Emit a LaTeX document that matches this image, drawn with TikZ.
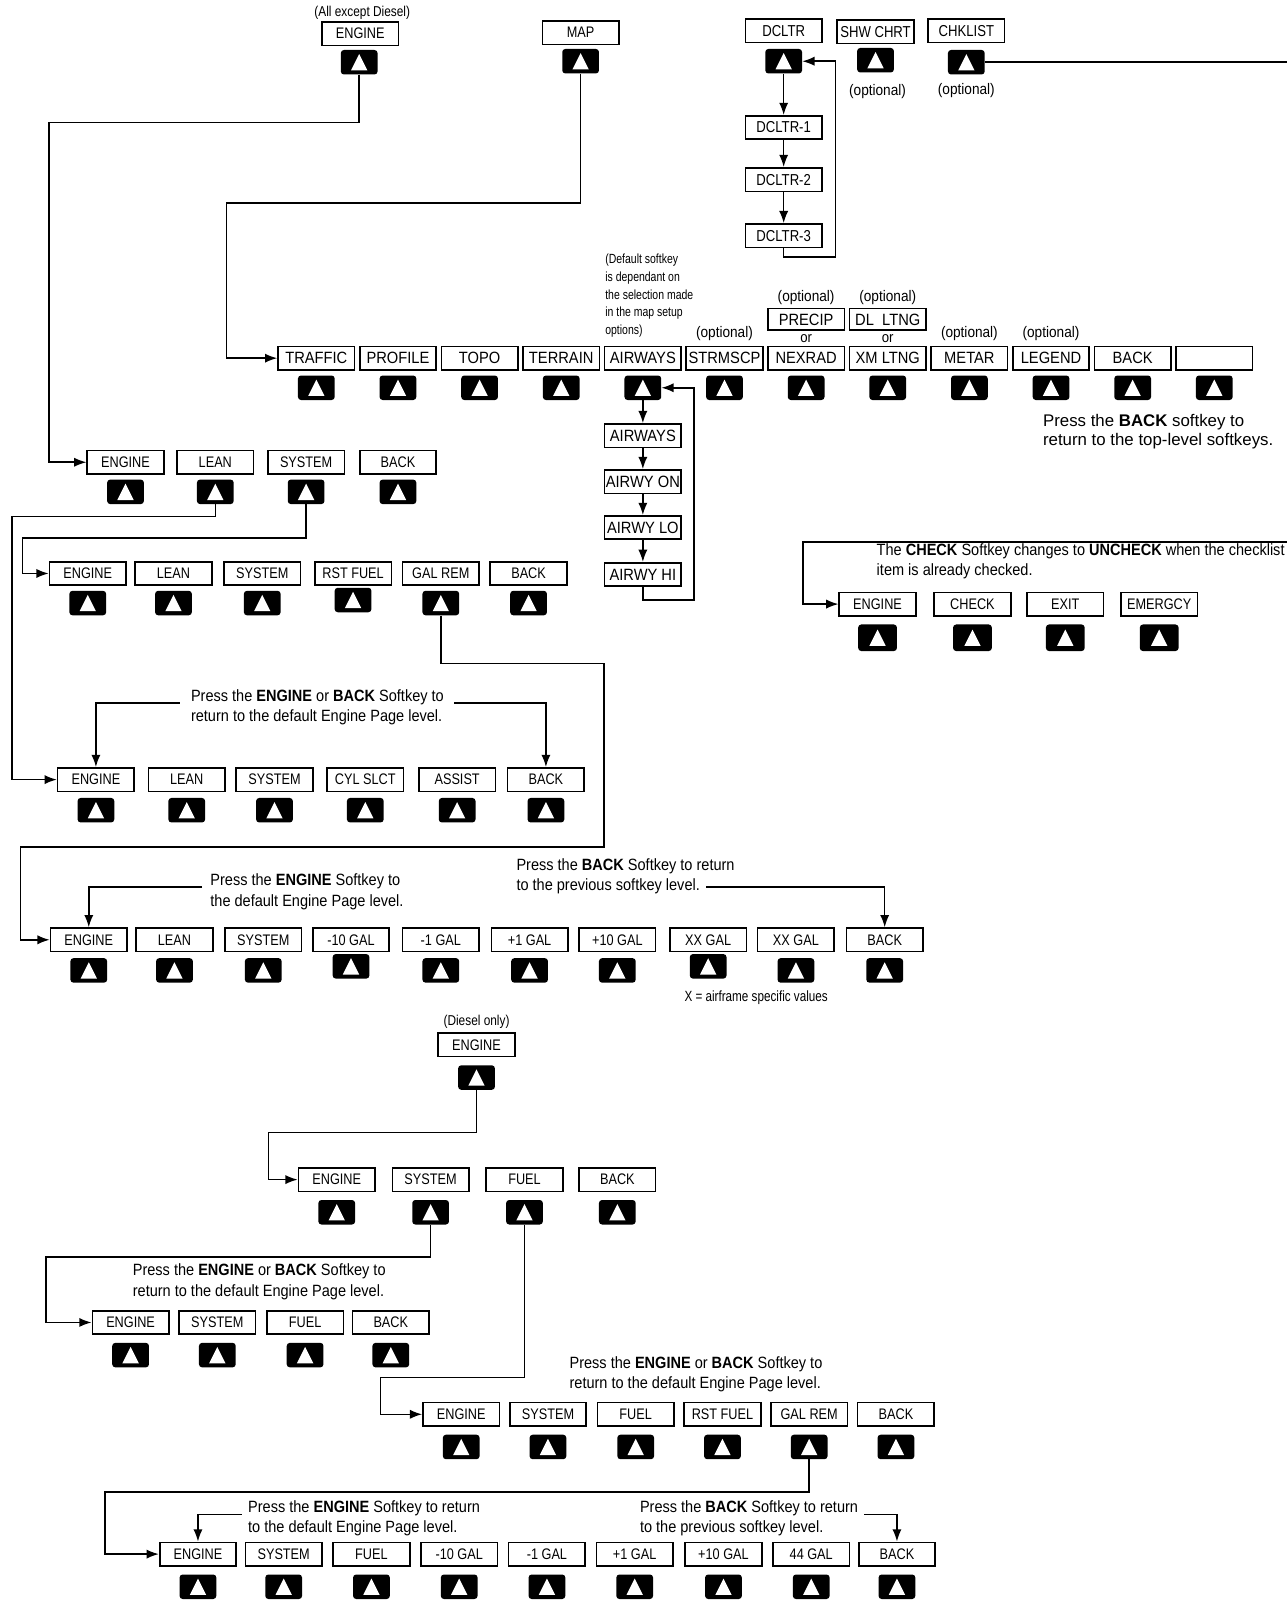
\documentclass[tikz,border=0pt]{standalone}
\usepackage{fontspec}
\setmainfont{Liberation Sans}
\newfontfamily\condf[FakeStretch=0.83]{Liberation Sans}
\newfontfamily\notef[FakeStretch=0.89]{Liberation Sans}
\newfontfamily\mapf[FakeStretch=0.9]{Liberation Sans}
\newfontfamily\smallf[FakeStretch=0.79]{Liberation Sans}
\usetikzlibrary{arrows.meta}
\tikzset{
 sk/.style={draw, line width=1.6pt, minimum width=75pt, minimum height=23pt, inner sep=0pt, font=\condf\fontsize{15}{18}\selectfont},
 topbox/.style={sk, font=\condf\fontsize{15.5}{18}\selectfont},
 mapbox/.style={sk, font=\mapf\fontsize{16}{19}\selectfont},
 keyb/.style={fill=black, rounded corners=3pt, minimum width=36pt, minimum height=24pt, inner sep=0pt,
   path picture={\fill[white, sharp corners] ([xshift=-8pt,yshift=-8pt]path picture bounding box.center) -- ++(16pt,0pt) -- ([yshift=8pt]path picture bounding box.center) -- cycle;}},
 bigkey/.style={keyb, minimum width=38pt, minimum height=26pt},
 arr/.style={line width=1.5pt, -{Latex[length=12pt,width=9pt]}},
 ln/.style={line width=1.5pt},
 note/.style={anchor=west, align=left, inner sep=0pt, font=\notef\fontsize{16}{20}\selectfont},
 rnote/.style={anchor=west, align=left, inner sep=0pt, font=\fontsize{16.5}{19.5}\selectfont},
 opt/.style={inner sep=0pt, font=\notef\fontsize{15}{18}\selectfont},
 small/.style={inner sep=0pt, font=\smallf\fontsize{13}{17.3}\selectfont},
}
\begin{document}
\begin{tikzpicture}[x=1pt,y=-1pt]
\fill[white] (0,0) rectangle (1261,1568);
\useasboundingbox (0,0) rectangle (1261,1568);

% ---------- top level ----------
\node[opt, font=\condf\fontsize{14}{17}\selectfont] (allx) at (355,13) {(All except Diesel)};
\node[sk] (te) at (353,33) {ENGINE};
\node[keyb] (tek) at (352,61) {};
\node[sk] (tm) at (569,32) {MAP};
\node[keyb] (tmk) at (569,60) {};
\node[topbox] (td) at (768,30) {DCLTR};
\node[keyb] (tdk) at (768,60) {};
\node[topbox] (ts) at (858,31) {SHW CHRT};
\node[keyb] (tsk) at (858,59) {};
\node[opt] (tso) at (860,90) {(optional)};
\node[topbox] (tc) at (947,30) {CHKLIST};
\node[keyb] (tck) at (947,61) {};
\node[opt] (tco) at (947,89) {(optional)};
\coordinate (cright) at (1261,61);
\draw[ln] (tck.east) -- (cright);

% DCLTR chain
\node[topbox] (d1) at (768,125) {DCLTR-1};
\node[topbox] (d2) at (768,176) {DCLTR-2};
\node[topbox] (d3) at (768,231) {DCLTR-3};
\draw[arr] (tdk.south) -- (d1.north);
\draw[arr] (d1.south) -- (d2.north);
\draw[arr] (d2.south) -- (d3.north);
\draw[arr] (d3.south) |- (819,252) |- (tdk.east);

% ---------- map row ----------
\foreach \t/\x [count=\i] in {TRAFFIC/310, PROFILE/390, TOPO/470, TERRAIN/550, AIRWAYS/630, STRMSCP/710, NEXRAD/790, XM LTNG/870, METAR/950, LEGEND/1030, BACK/1110}{
  \node[mapbox] (m\i) at (\x,351) {\t};
  \node[keyb] (mK\i) at (\x,380) {};
}
\node[mapbox] (m12) at (1190,351) {};
\node[keyb] (mK12) at (1190,380) {};
\node[mapbox, minimum height=21pt] (precip) at (790,313) {PRECIP};
\node[mapbox, minimum height=21pt] (dlltng) at (870,313) {DL\ \ LTNG};
\node[opt] (o1) at (790,292) {(optional)};
\node[opt] (o2) at (870,292) {(optional)};
\node[opt] (o3) at (710,327) {(optional)};
\node[opt] (o4) at (950,327) {(optional)};
\node[opt] (o5) at (1030,327) {(optional)};
\node[opt, font=\notef\fontsize{14.5}{16}\selectfont] (or1) at (790,331.5) {or};
\node[opt, font=\notef\fontsize{14.5}{16}\selectfont] (or2) at (870,331.5) {or};
\node[small, anchor=north west, align=left] (deflt) at (593,249) {(Default softkey\\is dependant on\\the selection made\\in the map setup\\options)};
\node[rnote] (backnote) at (1022,423) {Press the \textbf{BACK} softkey to\\return to the top-level softkeys.};
\draw[arr] (tmk.south) |- (222,199) |- (m1.west);

% airways chain
\node[mapbox] (aw1) at (630,427) {AIRWAYS};
\node[mapbox] (aw2) at (630,472) {AIRWY ON};
\node[mapbox] (aw3) at (630,517) {AIRWY LO};
\node[mapbox] (aw4) at (630,563) {AIRWY HI};
\draw[arr] (mK5.south) -- (aw1.north);
\draw[arr] (aw1.south) -- (aw2.north);
\draw[arr] (aw2.south) -- (aw3.north);
\draw[arr] (aw3.south) -- (aw4.north);
\draw[arr] (aw4.south) |- (680,588) |- (mK5.east);

% ---------- engine level 1 ----------
\foreach \t/\x [count=\i] in {ENGINE/123, LEAN/211, SYSTEM/300, BACK/390}{
  \node[sk] (ea\i) at (\x,453) {\t};
  \node[keyb] (eaK\i) at (\x,482) {};
}
\draw[arr] (tek.south) |- (48,120) |- (ea1.west);

% ---------- engine level 2 ----------
\foreach \t/\x/\ky [count=\i] in {ENGINE/86/591, LEAN/170/591, SYSTEM/257/591, RST FUEL/346/588, GAL REM/432/591, BACK/518/591}{
  \node[sk] (eb\i) at (\x,562) {\t};
  \node[keyb] (ebK\i) at (\x,\ky) {};
}
\draw[arr] (eaK3.south) |- (22,527) |- (eb1.west);

% ---------- engine level 3 ----------
\foreach \t/\x [count=\i] in {ENGINE/94, LEAN/183, SYSTEM/269, CYL SLCT/358, ASSIST/448, BACK/535}{
  \node[sk] (ec\i) at (\x,764) {\t};
  \node[keyb] (ecK\i) at (\x,794) {};
}
\draw[arr] (eaK2.south) |- (12,506) |- (ec1.west);
\node[note] (n3) at (187,693) {Press the \textbf{ENGINE} or \textbf{BACK} Softkey to\\return to the default Engine Page level.};
\coordinate (n3l) at (176,689);
\coordinate (n3r) at (445,689);
\draw[arr] (n3l) -| (ec1.north);
\draw[arr] (n3r) -| (ec6.north);

% ---------- engine level 4 ----------
\foreach \t/\x/\ky [count=\i] in {ENGINE/87/951, LEAN/171/951, SYSTEM/258/951, -10 GAL/344/947, -1 GAL/432/951, +1 GAL/519/951, +10 GAL/605/951, XX GAL/694/947, XX GAL/780/951, BACK/867/951}{
  \node[sk] (ed\i) at (\x,921) {\t};
  \node[keyb] (edK\i) at (\x,\ky) {};
}
\draw[arr] (ebK5.south) |- (592,650) |- (20,830) |- (ed1.west);
\node[note] (n4a) at (206,874) {Press the \textbf{ENGINE} Softkey to\\the default Engine Page level.};
\node[note] (n4b) at (506,859) {Press the \textbf{BACK} Softkey to return\\to the previous softkey level.};
\coordinate (n4l) at (198,869);
\coordinate (n4r) at (692,869);
\draw[arr] (n4l) -| (ed1.north);
\draw[arr] (n4r) -| (ed10.north);
\node[small, font=\smallf\fontsize{14.5}{17}\selectfont] (xnote) at (741,978) {X = airframe specific values};

% ---------- checklist ----------
\foreach \t/\x [count=\i] in {ENGINE/860, CHECK/953, EXIT/1044, EMERGCY/1136}{
  \node[sk] (ck\i) at (\x,592) {\t};
  \node[bigkey] (ckK\i) at (\x,625) {};
}
\node[note] (cknote) at (859,550) {The \textbf{CHECK} Softkey changes to \textbf{UNCHECK} when the checklist\\item is already checked.};
\coordinate (cright2) at (1261,531);
\draw[arr] (cright2) -| (787,560) |- (ck1.west);

% ---------- diesel ----------
\node[opt, font=\condf\fontsize{14}{17}\selectfont] (dsl) at (467,1001) {(Diesel only)};
\node[sk] (de) at (467,1024) {ENGINE};
\node[keyb] (deK) at (467,1056) {};

\foreach \t/\x [count=\i] in {ENGINE/330, SYSTEM/422, FUEL/514, BACK/605}{
  \node[sk] (fa\i) at (\x,1156) {\t};
  \node[keyb] (faK\i) at (\x,1188) {};
}
\draw[arr] (deK.south) |- (263,1110) |- (fa1.west);

\foreach \t/\x [count=\i] in {ENGINE/128, SYSTEM/213, FUEL/299, BACK/383}{
  \node[sk] (fb\i) at (\x,1296) {\t};
  \node[keyb] (fbK\i) at (\x,1328) {};
}
\draw[arr] (faK2.south) |- (45,1232) |- (fb1.west);
\node[note] (n6) at (130,1256) {Press the \textbf{ENGINE} or \textbf{BACK} Softkey to\\return to the default Engine Page level.};

\foreach \t/\x [count=\i] in {ENGINE/452, SYSTEM/537, FUEL/623, RST FUEL/708, GAL REM/793, BACK/878}{
  \node[sk] (fc\i) at (\x,1386) {\t};
  \node[keyb] (fcK\i) at (\x,1418) {};
}
\draw[arr] (faK3.south) |- (373,1350) |- (fc1.west);
\node[note] (n7) at (558,1347) {Press the \textbf{ENGINE} or \textbf{BACK} Softkey to\\return to the default Engine Page level.};

\foreach \t/\x [count=\i] in {ENGINE/194, SYSTEM/278, FUEL/364, -10 GAL/450, -1 GAL/536, +1 GAL/622, +10 GAL/709, 44 GAL/795, BACK/879}{
  \node[sk] (fd\i) at (\x,1523) {\t};
  \node[keyb] (fdK\i) at (\x,1555) {};
}
\draw[arr] (fcK5.south) |- (103,1462) |- (fd1.west);
\node[note] (n8a) at (243,1488) {Press the \textbf{ENGINE} Softkey to return\\to the default Engine Page level.};
\node[note] (n8b) at (627,1488) {Press the \textbf{BACK} Softkey to return\\to the previous softkey level.};
\coordinate (n8l) at (237,1484);
\coordinate (n8r) at (847,1484);
\draw[arr] (n8l) -| (fd1.north);
\draw[arr] (n8r) -| (fd9.north);
\end{tikzpicture}
\end{document}
